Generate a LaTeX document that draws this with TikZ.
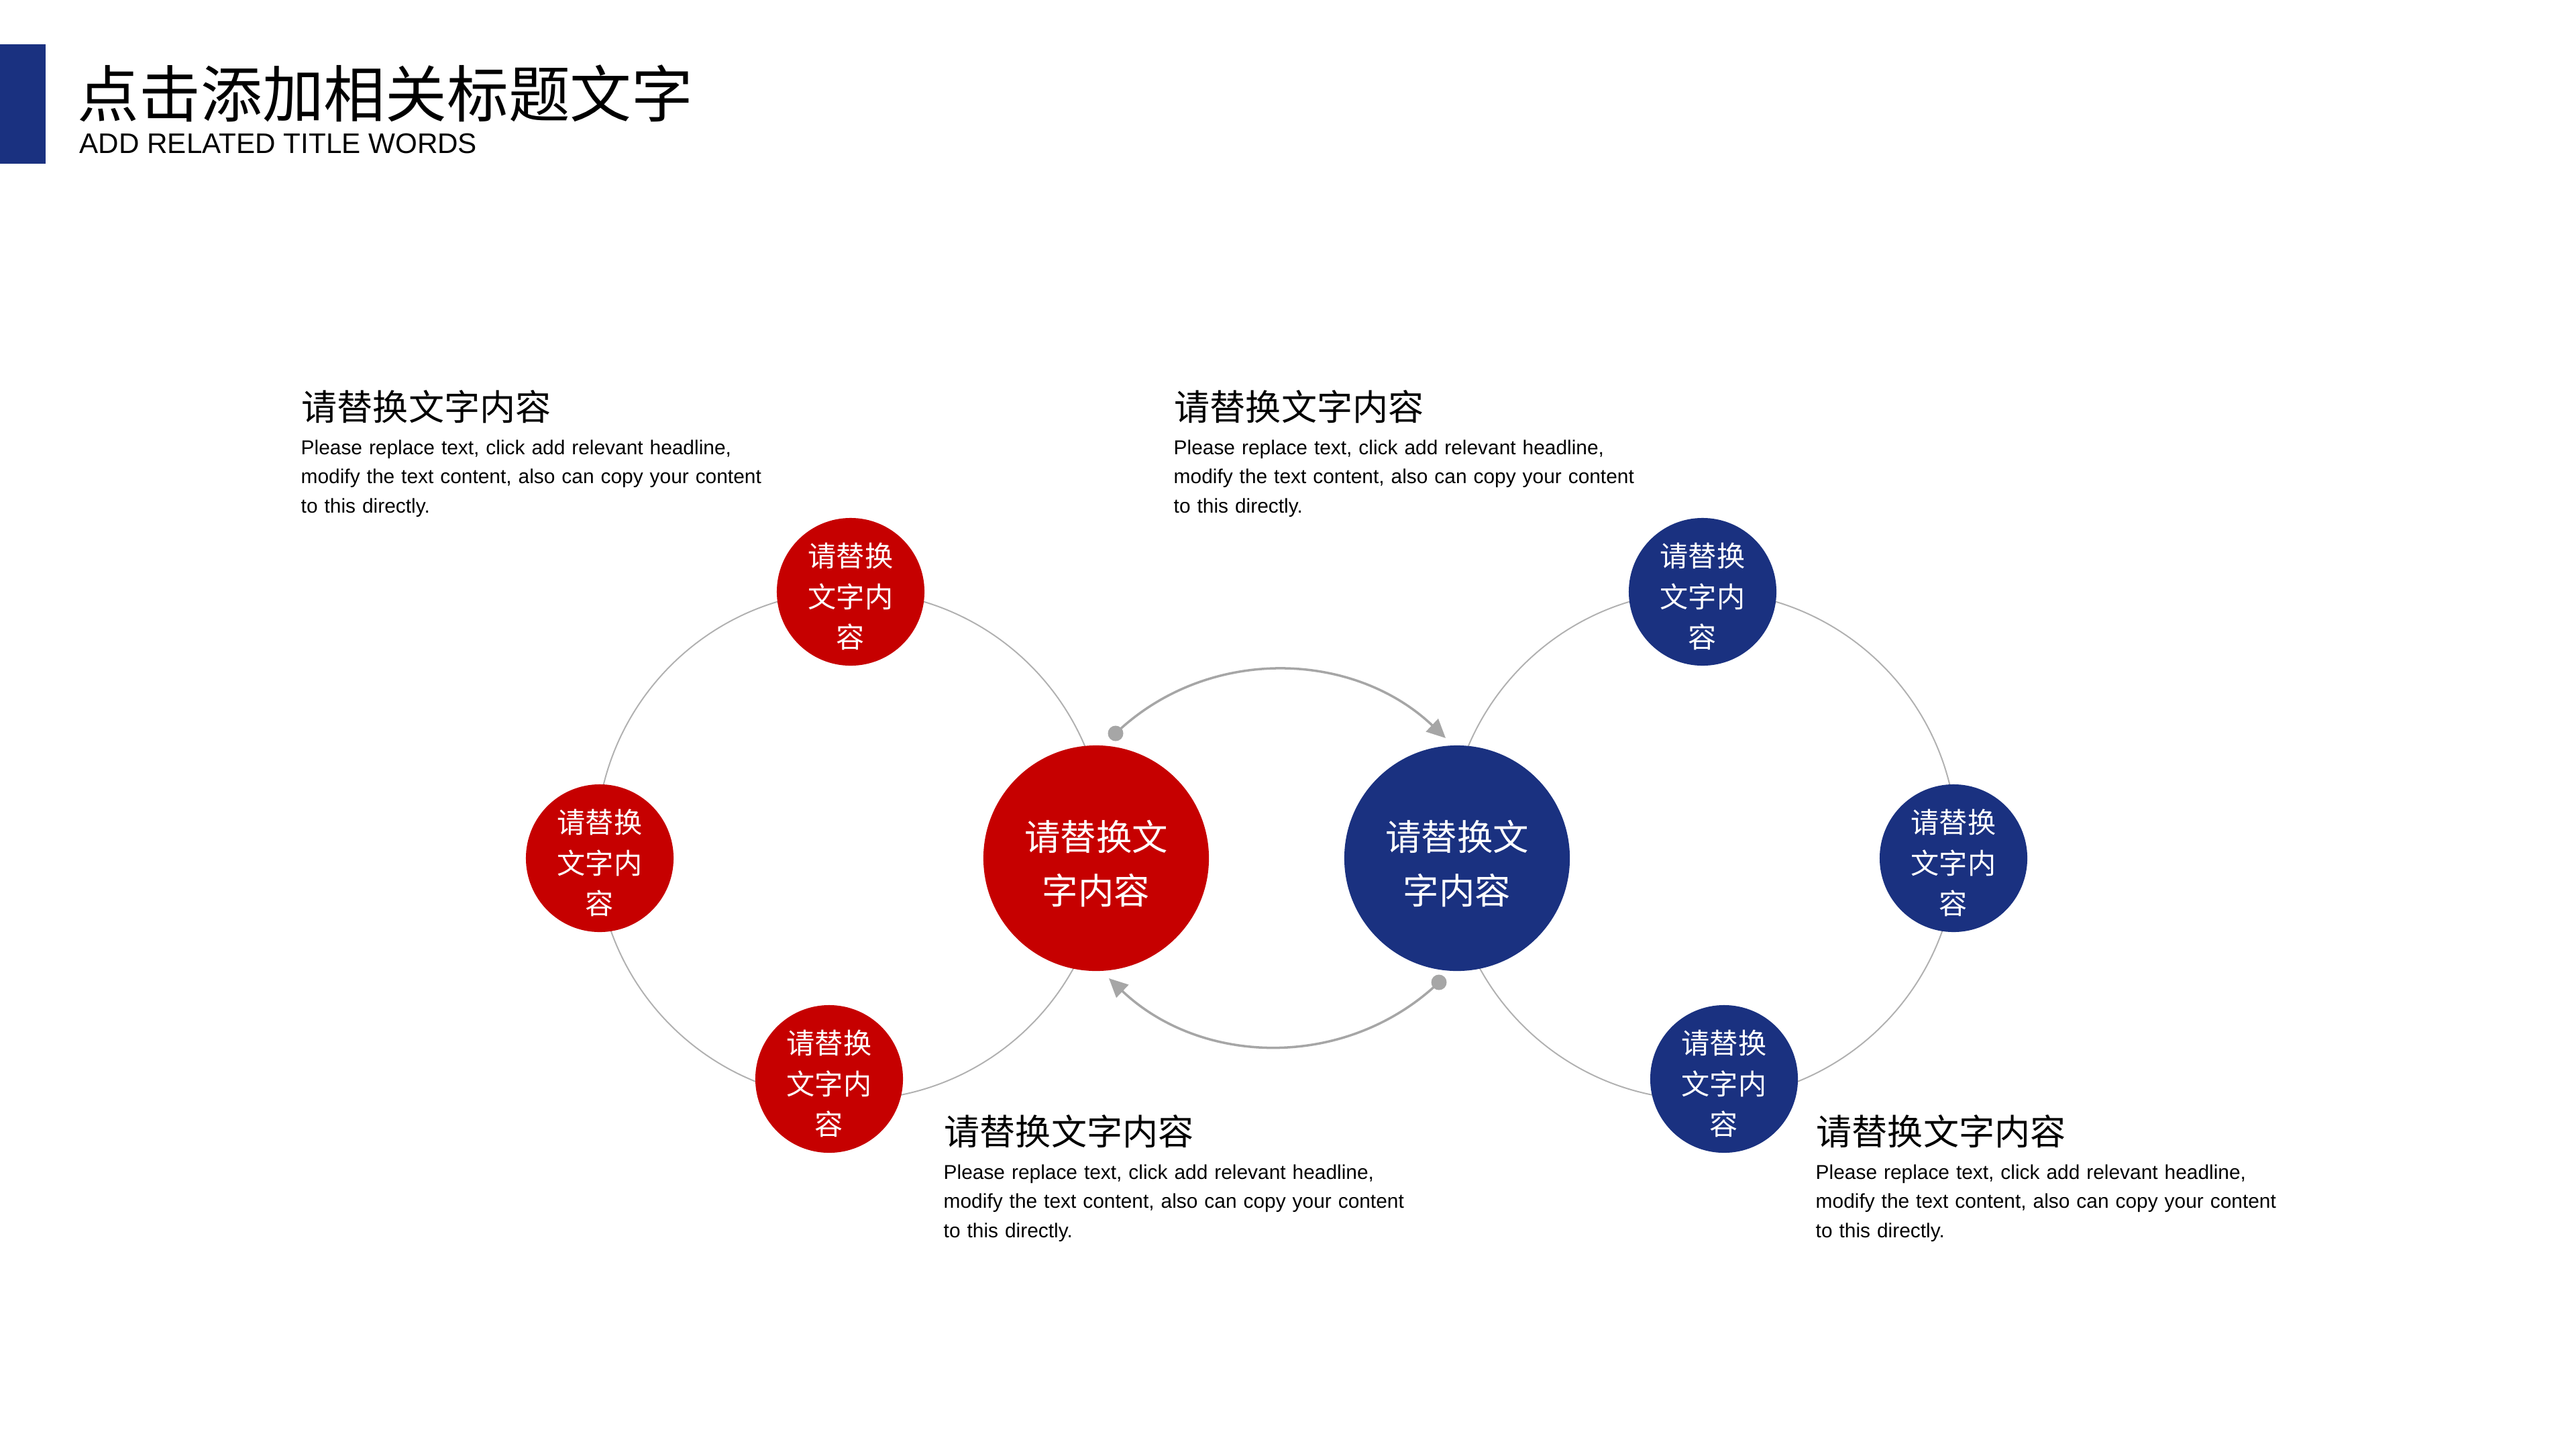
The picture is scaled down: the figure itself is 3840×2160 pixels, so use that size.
\documentclass[tikz,border=0pt]{standalone}
\usepackage{fontspec}
\setmainfont{Liberation Sans}
\newfontfamily\cjk{Noto Sans CJK SC}
\usetikzlibrary{arrows.meta}
\definecolor{myred}{HTML}{C60000}
\definecolor{myblue}{HTML}{1A3180}
\definecolor{ringgray}{HTML}{B0B0B0}
\definecolor{arcgray}{HTML}{A6A6A6}
\begin{document}
\begin{tikzpicture}[x=0.01cm,y=-0.01cm,
  bigc/.style={circle,minimum size=3.36cm,inner sep=0pt},
  smallc/.style={circle,minimum size=2.2cm,inner sep=0pt},
  bigtxt/.style={text=white,align=center,inner sep=0pt,yshift=-0.08cm,font=\cjk\fontsize{15.2pt}{22.5pt}\selectfont},
  smalltxt/.style={text=white,align=center,inner sep=0pt,yshift=-0.07cm,font=\cjk\fontsize{12pt}{17.1pt}\selectfont},
  headtxt/.style={anchor=base west,inner sep=0pt,font=\cjk\fontsize{15.1pt}{18pt}\selectfont},
  bodytxt/.style={anchor=base west,inner sep=0pt,text width=8cm,align=left,font=\fontsize{8.5pt}{12.4pt}\selectfont},
  ringline/.style={draw=ringgray,line width=0.55pt},
  arcline/.style={draw=arcgray,line width=1pt,-{Triangle[length=0.28cm,width=0.26cm]}},
  dotn/.style={circle,fill=arcgray,minimum size=0.23cm,inner sep=0pt},
]
\useasboundingbox (0,0) rectangle (3840,2160);
\fill[white] (0,0) rectangle (3840,2160);

% title
\fill[myblue] (0,66) rectangle (68,244);
\node[anchor=base west,inner sep=0pt,font=\cjk\fontsize{26.1pt}{31pt}\selectfont] (title) at (115,174) {点击添加相关标题文字};
\node[anchor=base west,inner sep=0pt,font=\fontsize{12pt}{14pt}\selectfont] (subtitle) at (118,228) {ADD RELATED TITLE WORDS};

% rings
\coordinate (lc) at (1268,1260);
\coordinate (rc) at (2538,1260);
\draw[ringline] (lc) circle [radius=3.79cm];
\draw[ringline] (rc) circle [radius=3.79cm];

% arcs
\node[dotn] (d1) at (1663,1093) {};
\coordinate (e1) at (2155,1100);
\draw[arcline] (d1.center) .. controls (1800,962) and (2017,969) .. (e1);
\node[dotn] (d2) at (2145,1464) {};
\coordinate (e2) at (1653,1458);
\draw[arcline] (d2.center) .. controls (2007,1595) and (1791,1589) .. (e2);

% big circles
\node[bigc,fill=myred] (bigR) at (1634,1279) {};
\node[bigtxt] (bigRt) at (bigR) {请替换文\\字内容};
\node[bigc,fill=myblue] (bigB) at (2172,1279) {};
\node[bigtxt] (bigBt) at (bigB) {请替换文\\字内容};

% small red circles
\node[smallc,fill=myred] (r1) at (1268,882) {};
\node[smalltxt] (r1t) at (r1) {请替换\\文字内\\容};
\node[smallc,fill=myred] (r2) at (894,1279) {};
\node[smalltxt] (r2t) at (r2) {请替换\\文字内\\容};
\node[smallc,fill=myred] (r3) at (1236,1608) {};
\node[smalltxt] (r3t) at (r3) {请替换\\文字内\\容};

% small blue circles
\node[smallc,fill=myblue] (b1) at (2538,882) {};
\node[smalltxt] (b1t) at (b1) {请替换\\文字内\\容};
\node[smallc,fill=myblue] (b2) at (2912,1279) {};
\node[smalltxt] (b2t) at (b2) {请替换\\文字内\\容};
\node[smallc,fill=myblue] (b3) at (2570,1608) {};
\node[smalltxt] (b3t) at (b3) {请替换\\文字内\\容};

% text blocks
\node[headtxt] (h1) at (449,626) {请替换文字内容};
\node[bodytxt] (t1) at (448,677) {Please replace text, click add relevant headline,\\modify the text content, also can copy your content\\to this directly.};
\node[headtxt] (h2) at (1750,626) {请替换文字内容};
\node[bodytxt] (t2) at (1749,677) {Please replace text, click add relevant headline,\\modify the text content, also can copy your content\\to this directly.};
\node[headtxt] (h3) at (1407,1706) {请替换文字内容};
\node[bodytxt] (t3) at (1406,1757) {Please replace text, click add relevant headline,\\modify the text content, also can copy your content\\to this directly.};
\node[headtxt] (h4) at (2707,1706) {请替换文字内容};
\node[bodytxt] (t4) at (2706,1757) {Please replace text, click add relevant headline,\\modify the text content, also can copy your content\\to this directly.};
\end{tikzpicture}
\end{document}
